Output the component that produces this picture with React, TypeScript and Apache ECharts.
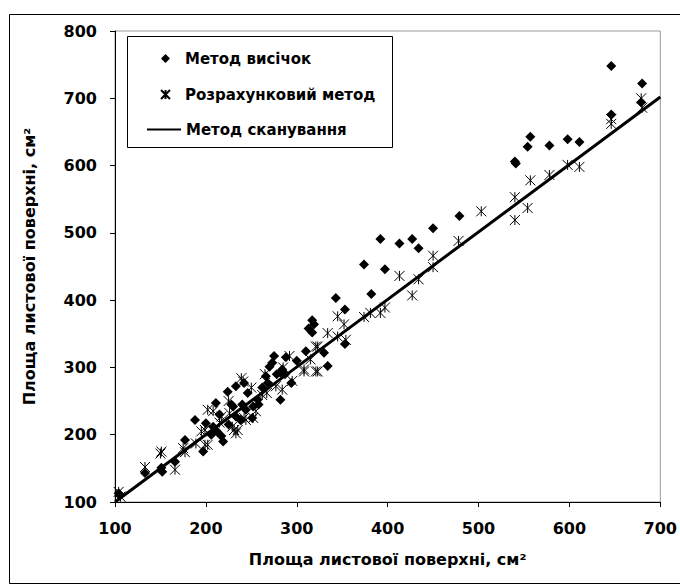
import React, { useEffect, useRef } from "react";
import * as echarts from "echarts";

const seriesNames = ["Метод висічок", "Розрахунковий метод", "Метод сканування"];
const axisTitle = "Площа листової поверхні, см²";

// Метод висічок [x, y]
const punchValues: number[][] = [
  [646, 748], [680, 722], [679, 694], [646, 676], [557, 643], [554, 628], [578, 630],
  [598, 639], [611, 635], [540, 606], [541, 603], [479, 525], [450, 507], [427, 491],
  [434, 477], [413, 484], [392, 491], [374, 453], [397, 446], [382, 409], [343, 403],
  [353, 386], [317, 370], [319, 364], [313, 358], [317, 352], [353, 335], [330, 322],
  [310, 324], [334, 302], [288, 315], [275, 317], [273, 307], [270, 301], [284, 297],
  [282, 292], [266, 287], [268, 277], [294, 277], [282, 252], [257, 252], [252, 242],
  [242, 277], [246, 262], [224, 264], [233, 272], [211, 247], [228, 245], [188, 222],
  [200, 217], [177, 192], [197, 175], [208, 212], [217, 198], [219, 190], [206, 200],
  [233, 227], [238, 222], [244, 237], [251, 225], [166, 160], [151, 151], [152, 145],
  [133, 143], [104, 113], [105, 110], [212, 205], [225, 215], [240, 245], [262, 270],
  [287, 290], [300, 310], [278, 290], [258, 245], [230, 242], [215, 230]
];

// Розрахунковий метод [x, y]
const calcValues: number[][] = [
  [679, 700], [680, 686], [646, 669], [646, 662], [557, 578], [578, 586], [598, 601],
  [611, 598], [540, 553], [554, 537], [540, 519], [503, 532], [478, 488], [450, 466],
  [450, 449], [434, 431], [413, 436], [427, 407], [397, 389], [392, 381], [381, 381],
  [374, 375], [345, 376], [352, 364], [334, 351], [345, 346], [354, 341], [323, 331],
  [315, 312], [308, 294], [323, 294], [292, 317], [321, 331], [321, 294], [308, 297],
  [284, 267], [277, 272], [267, 262], [262, 259], [252, 225], [242, 225], [241, 279],
  [233, 202], [231, 207], [226, 232], [217, 227], [208, 235], [202, 185], [199, 207],
  [189, 187], [177, 174], [166, 148], [151, 175], [150, 172], [133, 152], [104, 115],
  [106, 108], [202, 237], [239, 284], [244, 222], [235, 207], [229, 212], [195, 205],
  [215, 218], [175, 180], [199, 185], [225, 250], [250, 270], [265, 290], [285, 300],
  [295, 280], [255, 235]
];

// Метод сканування (line) [x, y]
const scanValues: number[][] = [
  [100, 100],
  [700, 702]
];

const xMin = 100, xMax = 700, xStep = 100;
const yMin = 100, yMax = 800, yStep = 100;

const FONT = "DejaVu Sans";
const starPath = "path://M0 0L10 10M10 0L0 10M5 0L5 10";
const legendText = { fontFamily: FONT, fontWeight: "bold", fontSize: 15, color: "#000" };

export default function App() {
  const ref = useRef<HTMLDivElement>(null);
  useEffect(() => {
    if (!ref.current) return;
    const chart = echarts.init(ref.current, undefined, { renderer: "svg" });
    chart.setOption({
      animation: false,
      backgroundColor: "#fff",
      textStyle: { fontFamily: FONT },
      grid: {
        left: 115, top: 31, right: 17, bottom: 82,
        show: true, borderColor: "#999", borderWidth: 1
      },
      legend: [
        {
          orient: "vertical",
          left: 160, top: 51,
          itemWidth: 9, itemHeight: 9, itemGap: 21,
          padding: 0,
          textStyle: { ...legendText, padding: [0, 0, 0, 10] },
          data: [
            { name: seriesNames[0], icon: "diamond" },
            { name: seriesNames[1], icon: starPath }
          ]
        },
        {
          orient: "vertical",
          left: 147, top: 122,
          itemWidth: 34, itemHeight: 9,
          padding: 0,
          textStyle: legendText,
          data: [
            { name: seriesNames[2], icon: "path://M0 0L34 0L34 2L0 2Z" }
          ]
        }
      ],
      graphic: [
        {
          type: "rect", left: 7, top: 12, silent: true,
          shape: { width: 671, height: 569 },
          style: { fill: "none", stroke: "#000", lineWidth: 1 }
        },
        {
          type: "rect", left: 127, top: 36, silent: true,
          shape: { width: 265, height: 111 },
          style: { fill: "#fff", stroke: "#000", lineWidth: 1 },
          z: 0
        }
      ],
      xAxis: {
        type: "value", min: xMin, max: xMax, interval: xStep,
        name: axisTitle, nameLocation: "middle", nameGap: 49,
        nameTextStyle: { fontFamily: FONT, fontWeight: "bold", fontSize: 16, color: "#000" },
        axisLine: { show: true, lineStyle: { color: "#000", width: 1 } },
        axisTick: { show: true, length: 5, lineStyle: { color: "#000" } },
        axisLabel: { margin: 18, fontFamily: FONT, fontWeight: "bold", fontSize: 16, color: "#000" },
        splitLine: { show: false }
      },
      yAxis: {
        type: "value", min: yMin, max: yMax, interval: yStep,
        name: axisTitle, nameLocation: "middle", nameGap: 78,
        nameTextStyle: { fontFamily: FONT, fontWeight: "bold", fontSize: 16, color: "#000" },
        axisLine: { show: true, lineStyle: { color: "#000", width: 1 } },
        axisTick: { show: true, length: 5, lineStyle: { color: "#000" } },
        axisLabel: { margin: 18, fontFamily: FONT, fontWeight: "bold", fontSize: 16, color: "#000" },
        splitLine: { show: false }
      },
      series: [
        {
          name: seriesNames[0], type: "scatter", data: punchValues,
          symbol: "diamond", symbolSize: 10,
          itemStyle: { color: "#000", opacity: 1 }, z: 3
        },
        {
          name: seriesNames[1], type: "scatter", data: calcValues,
          symbol: starPath, symbolSize: 10,
          itemStyle: { color: "#000", borderColor: "#000", borderWidth: 1, opacity: 1 }, z: 3
        },
        {
          name: seriesNames[2], type: "line", data: scanValues,
          symbol: "none", showSymbol: false,
          lineStyle: { color: "#000", width: 3 },
          itemStyle: { color: "#000" }, z: 4
        }
      ]
    });
    return () => chart.dispose();
  }, []);
  return <div ref={ref} style={{ position: "fixed", left: 0, top: 0, width: 680, height: 584 }} />;
}
